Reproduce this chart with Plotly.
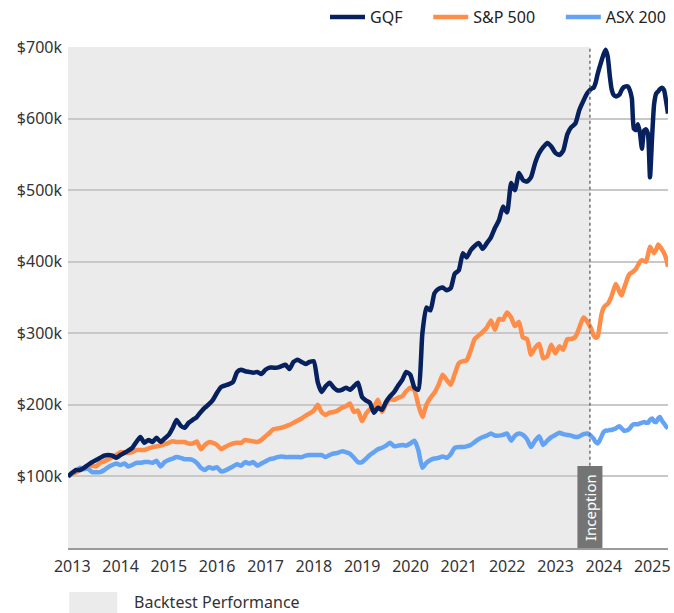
import datetime
import calendar
import plotly.graph_objects as go

# ---------------- data (values in $k) ----------------
# monthly month-end values Nov-2012 .. Sep-2023 (backtest), then semi-monthly Oct-2023 .. Apr-2025
gqf_monthly = [100, 105, 109, 109, 112, 116, 120, 123, 126, 129,
               130, 129, 126, 130, 133, 136, 140, 148, 155, 147,
               151, 148, 154, 148, 153, 158, 168, 179, 171, 168,
               175, 179, 183, 190, 196, 201, 207, 217, 225, 227,
               229, 232, 246, 249, 247, 246, 245, 246, 243, 249,
               252, 252, 252, 254, 256, 250, 260, 263, 260, 257,
               260, 261, 231, 218, 226, 231, 224, 220, 221, 224,
               221, 226, 231, 211, 206, 203, 189, 196, 193, 204,
               212, 218, 227, 235, 246, 242, 224, 221, 300, 336,
               332, 356, 362, 364, 360, 363, 383, 388, 412, 406,
               416, 422, 426, 418, 426, 434, 447, 458, 477, 469,
               510, 500, 524, 514, 512, 518, 538, 552, 560, 566,
               561, 552, 549, 555, 578, 588, 593, 612, 625, 636,
               642]
gqf_recent = [643, 650, 662, 672, 681, 690, 696, 686, 660, 641,
              633, 631, 632, 634, 640, 644, 645, 645, 640, 628,
              586, 584, 592, 580, 558, 583, 585, 578, 518, 575,
              620, 635, 638, 641, 643, 640, 625, 607]

sp500_monthly = [100, 104, 106, 109, 112, 115, 115, 114, 119, 121,
                 124, 127, 130, 134, 133, 133, 134, 137, 137, 137,
                 139, 141, 142, 143, 145, 147, 149, 148, 148, 148,
                 146, 146, 149, 138, 144, 148, 147, 144, 138, 141,
                 144, 146, 147, 147, 151, 150, 149, 148, 151, 156,
                 161, 166, 167, 168, 170, 172, 175, 178, 181, 185,
                 188, 192, 200, 190, 186, 189, 190, 192, 196, 198,
                 202, 190, 192, 177, 188, 194, 197, 207, 190, 201,
                 208, 207, 210, 212, 219, 224, 220, 200, 183, 200,
                 210, 217, 228, 242, 235, 228, 243, 258, 261, 262,
                 276, 292, 297, 302, 308, 318, 305, 320, 319, 329,
                 322, 310, 316, 294, 292, 270, 280, 285, 265, 268,
                 284, 272, 282, 277, 292, 292, 295, 308, 322, 316,
                 305]
sp500_recent = [297, 294, 295, 310, 327, 336, 339, 341, 346, 352,
                361, 369, 364, 357, 353, 362, 370, 378, 383, 385,
                387, 390, 395, 400, 402, 401, 400, 410, 421, 416,
                412, 417, 424, 421, 417, 412, 405, 393]

asx200_monthly = [100, 104, 107, 112, 110, 111, 106, 106, 106, 109,
                  113, 116, 118, 116, 118, 114, 116, 119, 119, 120,
                  120, 119, 122, 114, 120, 123, 125, 127, 126, 124,
                  124, 123, 119, 112, 109, 113, 111, 113, 107, 108,
                  111, 114, 117, 115, 120, 118, 120, 115, 118, 121,
                  124, 125, 127, 128, 127, 127, 127, 127, 127, 129,
                  130, 130, 130, 130, 127, 130, 132, 133, 135, 134,
                  132, 126, 120, 120, 125, 130, 134, 138, 140, 143,
                  147, 142, 143, 144, 143, 146, 150, 137, 112, 119,
                  123, 125, 126, 128, 126, 131, 140, 141, 141, 142,
                  144, 148, 152, 155, 157, 160, 157, 157, 158, 160,
                  150, 157, 160, 158, 152, 141, 150, 156, 144, 150,
                  155, 158, 161, 159, 158, 157, 155, 156, 159, 160,
                  156]
asx200_recent = [153, 148, 146, 150, 156, 162, 164, 164, 165, 165,
                 166, 167, 169, 170, 167, 164, 164, 165, 167, 171,
                 173, 173, 173, 174, 175, 176, 175, 175, 179, 181,
                 177, 176, 181, 183, 178, 174, 170, 167]

series_names = ["GQF", "S&P 500", "ASX 200"]
year_ticks = list(range(2013, 2026))
y_ticks_k = [100, 200, 300, 400, 500, 600, 700]
inception_date = "2023-09-18"


# ---------------- dates ----------------
def month_end(y, m):
    return datetime.date(y, m, calendar.monthrange(y, m)[1])


dates = []
y, m = 2012, 11
while (y, m) <= (2023, 9):
    dates.append(month_end(y, m))
    m += 1
    if m > 12:
        m, y = 1, y + 1
while (y, m) <= (2025, 4):
    dates.append(datetime.date(y, m, 15))
    dates.append(month_end(y, m))
    m += 1
    if m > 12:
        m, y = 1, y + 1

gqf = [v * 1000 for v in gqf_monthly + gqf_recent]
sp500 = [v * 1000 for v in sp500_monthly + sp500_recent]
asx200 = [v * 1000 for v in asx200_monthly + asx200_recent]

colors = {"GQF": "#06215E", "S&P 500": "#FF8C47", "ASX 200": "#64A2F4"}
# legend labels padded with no-break spaces to reproduce the wider item spacing
legend_pad = {"GQF": 5, "S&P 500": 5, "ASX 200": 0}
FONT = "Noto Sans, Open Sans, sans-serif"

fig = go.Figure()
for name, vals, rank in [("ASX 200", asx200, 3), ("S&P 500", sp500, 2), ("GQF", gqf, 1)]:
    fig.add_trace(go.Scatter(
        x=dates, y=vals, name=name + "\u00a0" * legend_pad[name], mode="lines",
        legendrank=rank,
        line=dict(color=colors[name], width=4.5, shape="spline", smoothing=0.5),
        hoverinfo="skip",
    ))

# backtest shading
fig.add_shape(type="rect", xref="x", yref="paper", x0=dates[0], x1=inception_date,
              y0=0, y1=1, fillcolor="#EBEBEB", line_width=0, layer="below")
# inception dotted line
fig.add_shape(type="line", xref="x", yref="y", x0=inception_date, x1=inception_date,
              y0=115000, y1=700000, line=dict(color="#707070", width=1.5, dash="dot"))
# inception label box
fig.add_shape(type="rect", xref="x", yref="y", xsizemode="pixel", xanchor=inception_date,
              x0=-12.5, x1=12.5, ysizemode="pixel", yanchor=0, y0=0, y1=82,
              fillcolor="#747474", line_width=0)
fig.add_annotation(x=inception_date, y=57000, xref="x", yref="y", text="Inception",
                   textangle=-90, showarrow=False,
                   font=dict(family=FONT, size=15, color="white"))

# bottom legend for backtest
fig.add_shape(type="rect", xref="paper", yref="paper", x0=0.002, x1=0.082,
              y0=-0.1297, y1=-0.0878, fillcolor="#EBEBEB", line_width=0)
fig.add_annotation(x=0.107, y=-0.108, xref="paper", yref="paper", xanchor="left",
                   yanchor="middle", text="Backtest Performance", showarrow=False,
                   font=dict(family=FONT, size=16, color="#333333"))

fig.update_layout(
    width=674, height=613,
    margin=dict(l=68, r=6, t=47, b=65, autoexpand=False),
    paper_bgcolor="white", plot_bgcolor="white",
    font=dict(family=FONT, size=16, color="#333333"),
    hovermode=False,
    legend=dict(orientation="h", xref="container", yref="container",
                x=325 / 674, xanchor="left", y=1 - 17 / 613, yanchor="middle",
                font=dict(family=FONT, size=16, color="#222222"), traceorder="normal",
                itemwidth=35),
    xaxis=dict(type="date", range=[dates[0], dates[-1]], automargin=False,
               tickvals=[datetime.date(yr, 1, 1) for yr in year_ticks],
               ticktext=[str(yr) for yr in year_ticks], ticklabelstandoff=3,
               showgrid=False, showline=True, linecolor="#9A9A9A", linewidth=1.5,
               ticks="", zeroline=False, tickfont=dict(size=16, color="#333333")),
    yaxis=dict(range=[0, 700000], tickvals=[v * 1000 for v in y_ticks_k],
               ticktext=[f"${v}k" for v in y_ticks_k], automargin=False,
               ticklabelstandoff=5,
               showgrid=True, gridcolor="#C8C8C8", gridwidth=1.5,
               zeroline=False, showline=False, ticks="",
               tickfont=dict(size=16, color="#333333")),
)

# remove the default 8px page margin so the figure fills the window exactly
fig.write_html("out.html", config={"displayModeBar": False},
               post_script="document.body.style.margin='0';")
